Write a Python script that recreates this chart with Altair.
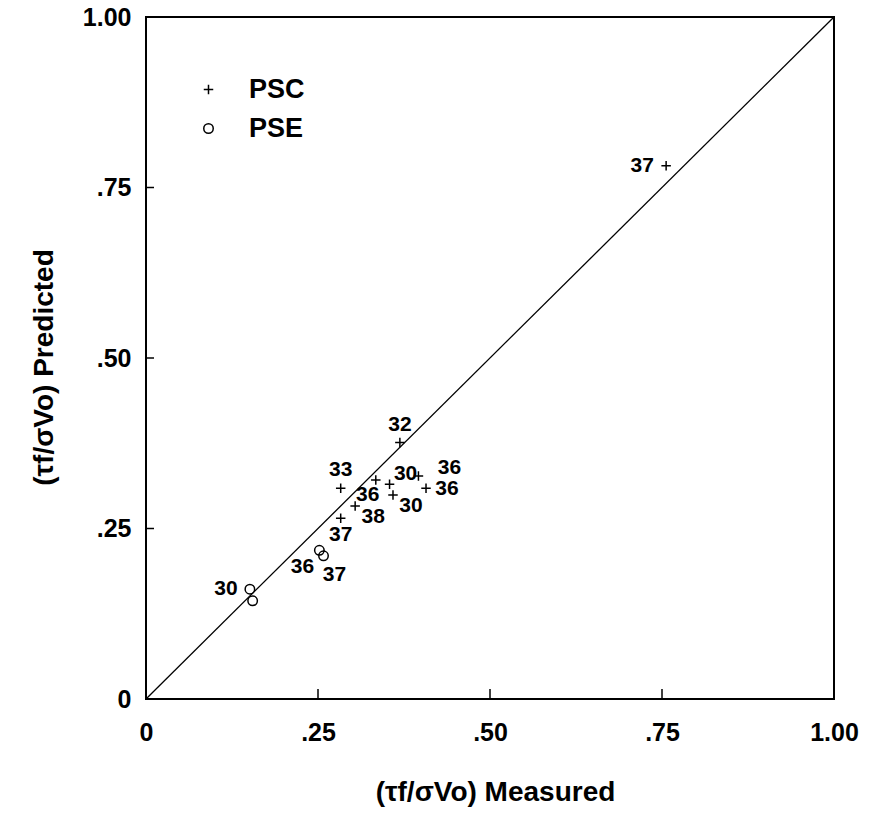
import altair as alt
import pandas as pd

# ---- data ----
psc_x = [0.756, 0.369, 0.283, 0.334, 0.354, 0.396, 0.407, 0.359, 0.304, 0.283]
psc_y = [0.782, 0.376, 0.309, 0.321, 0.315, 0.327, 0.309, 0.299, 0.283, 0.265]
psc_lab = ["37", "32", "33", "36", "30", "36", "36", "30", "38", "37"]

pse_x = [0.252, 0.258, 0.151, 0.155]
pse_y = [0.218, 0.210, 0.161, 0.144]
pse_lab = ["36", "37", "30", ""]

series = ["PSC", "PSE"]
tick_values = [0, 0.25, 0.5, 0.75, 1.0]
diag = [0.0, 1.0]

# label placement (style) per point
psc_place = ["W", "N", "N", "SW", "NE", "E2", "E", "SE", "SE", "S"]
pse_place = ["SW2", "SE2", "W", "W"]
OFFSETS = {
    "W": (-24, 0), "N": (0, -18), "S": (0, 17), "SW": (-8, 15), "SW2": (-17, 17),
    "NE": (16, -10), "E": (21, 1), "E2": (31, -8), "SE": (18, 11), "SE2": (11, 19),
}

FONT = "Liberation Sans"
PLUS = "M-1,0H1M0,-1V1"
W, H = 688, 682

pts = pd.DataFrame({
    "x": psc_x + pse_x,
    "y": psc_y + pse_y,
    "label": psc_lab + pse_lab,
    "series": ["PSC"] * len(psc_x) + ["PSE"] * len(pse_x),
    "place": psc_place + pse_place,
})
diag_df = pd.DataFrame({"x": diag, "y": diag})
ticks_df = pd.DataFrame({"v": tick_values[1:-1]})

label_expr = ("datum.value == 0 ? '0' : datum.value == 1 ? '1.00' : "
              "substring(format(datum.value, '.2f'), 1)")

xscale = alt.Scale(domain=[0, 1], nice=False, zero=False)
yscale = alt.Scale(domain=[0, 1], nice=False, zero=False)

xaxis = alt.Axis(values=tick_values, labelExpr=label_expr, ticks=False,
                 domain=False, grid=False,
                 labelFlush=False, labelPadding=21, labelFont=FONT, labelFontSize=25,
                 labelFontWeight="bold", labelColor="black",
                 title="(τf/σVo) Measured", titleFont=FONT, titleFontSize=28,
                 titleFontWeight="bold", titleColor="black",
                 titleX=349, titleY=101, titleBaseline="alphabetic")
yaxis = alt.Axis(values=tick_values, labelExpr=label_expr, ticks=False,
                 domain=False, grid=False,
                 labelFlush=False, labelPadding=15, labelFont=FONT, labelFontSize=25,
                 labelFontWeight="bold", labelColor="black",
                 title="(τf/σVo) Predicted", titleFont=FONT, titleFontSize=28,
                 titleFontWeight="bold", titleColor="black",
                 titleX=-94, titleY=350, titleBaseline="alphabetic")

line = alt.Chart(diag_df).mark_line(color="black", strokeWidth=1.3).encode(
    x=alt.X("x:Q", scale=xscale, axis=xaxis),
    y=alt.Y("y:Q", scale=yscale, axis=yaxis),
)

# inward tick marks drawn through the scales
xticks = alt.Chart(ticks_df).mark_rule(color="black", strokeWidth=1.5).encode(
    x=alt.X("v:Q", scale=xscale),
    y=alt.value(H), y2=alt.value(H - 10),
)
yticks = alt.Chart(ticks_df).mark_rule(color="black", strokeWidth=1.5).encode(
    y=alt.Y("v:Q", scale=yscale),
    x=alt.value(0), x2=alt.value(8),
)

points = alt.Chart(pts).mark_point(filled=False, strokeWidth=1.5, opacity=1, size=90).encode(
    x=alt.X("x:Q", scale=xscale),
    y=alt.Y("y:Q", scale=yscale),
    shape=alt.Shape("series:N", scale=alt.Scale(domain=series, range=[PLUS, "circle"]),
                    legend=alt.Legend(title=None, orient="none", legendX=49, legendY=59,
                                      labelFont=FONT, labelFontSize=27, labelFontWeight="bold",
                                      labelColor="black", labelOffset=27, rowPadding=11,
                                      symbolStrokeColor="black", symbolStrokeWidth=1.5,
                                      symbolFillColor="transparent", symbolSize=90,
                                      padding=0)),
    color=alt.value("black"),
)

label_layers = []
for key, (dx, dy) in OFFSETS.items():
    label_layers.append(
        alt.Chart(pts).transform_filter(alt.datum.place == key).mark_text(
            font=FONT, fontSize=21, fontWeight="bold", color="black",
            dx=dx, dy=dy, align="center", baseline="middle",
        ).encode(
            x=alt.X("x:Q", scale=xscale),
            y=alt.Y("y:Q", scale=yscale),
            text="label:N",
        )
    )

chart = alt.layer(line, xticks, yticks, points, *label_layers).properties(
    width=W, height=H,
    autosize=alt.AutoSizeParams(type="none"),
    padding={"left": 146, "top": 17, "right": 40, "bottom": 127},
    background="white",
).configure_view(stroke="black", strokeWidth=2)

chart.save("out.html", embed_options={"renderer": "svg", "actions": False})
